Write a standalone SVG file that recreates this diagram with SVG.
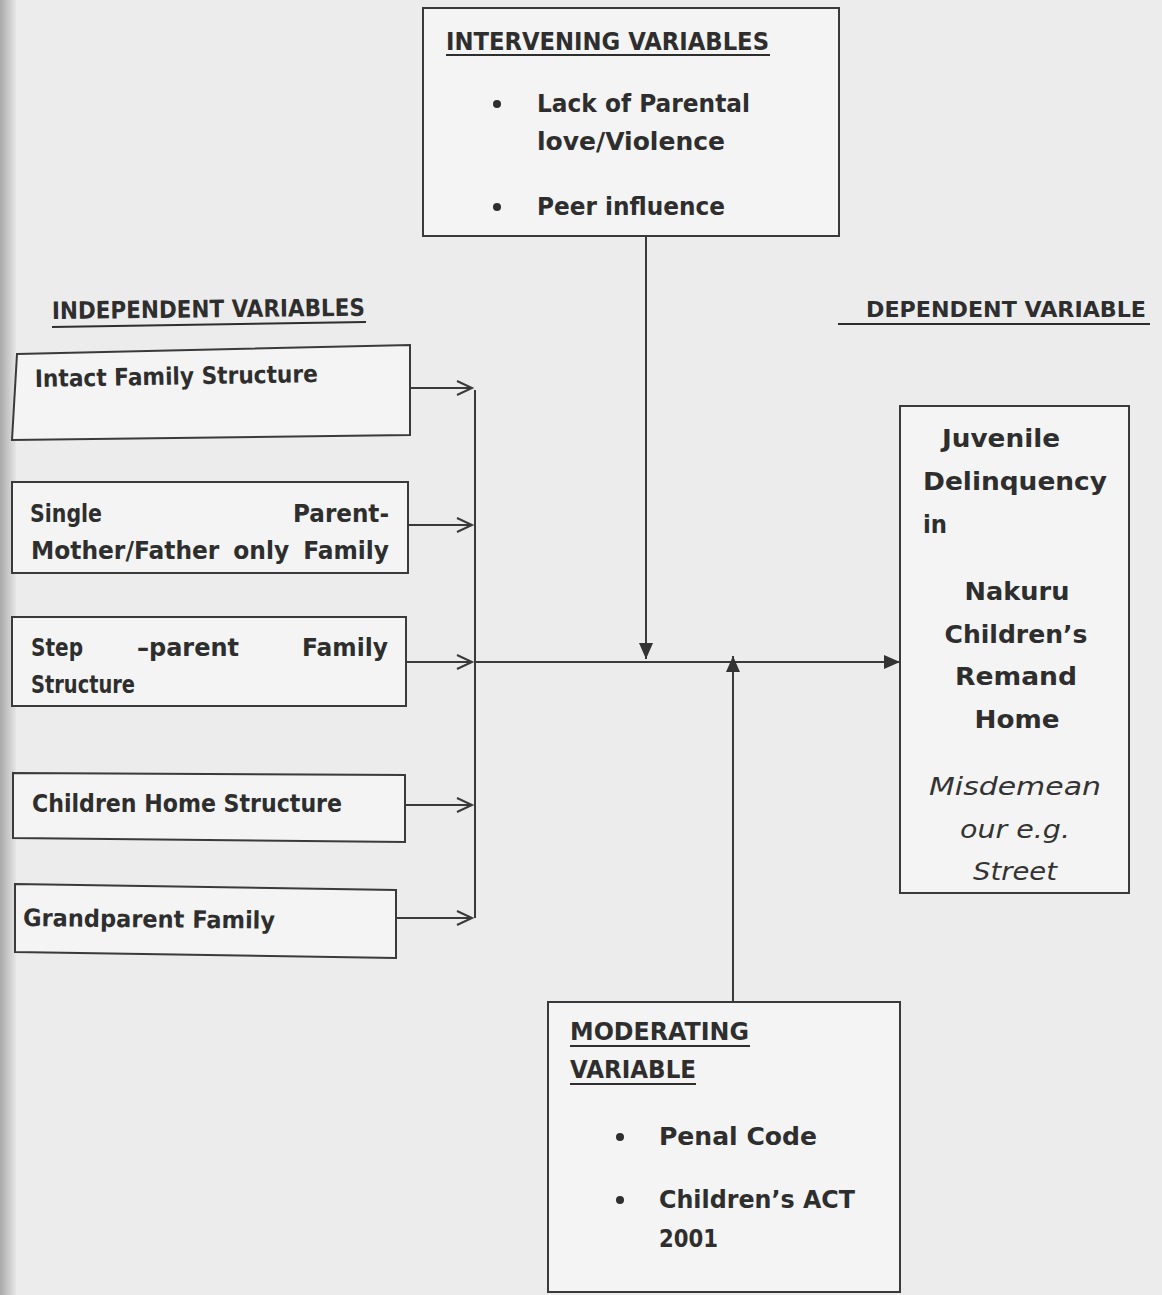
<svg xmlns="http://www.w3.org/2000/svg" width="1162" height="1295" viewBox="0 0 1162 1295">
<style>
.box{fill:#f4f4f4;stroke:#3a3a3a;stroke-width:2}
.t{font-family:"DejaVu Sans","Liberation Sans",sans-serif;font-weight:bold;font-size:24px;fill:#2e2e2e}
.it{font-family:"DejaVu Sans","Liberation Sans",sans-serif;font-style:italic;font-size:25px;fill:#333}
.ln{stroke:#3a3a3a;stroke-width:2;fill:none}
.ul{stroke:#2e2e2e;stroke-width:2}
</style>
<defs>
<linearGradient id="edge" x1="0" y1="0" x2="1" y2="0">
<stop offset="0" stop-color="#a9a9a9"/><stop offset="1" stop-color="#e6e6e6"/>
</linearGradient>
<marker id="open" markerWidth="20" markerHeight="20" refX="16" refY="8" orient="auto" markerUnits="userSpaceOnUse">
<path d="M1,1 L16,8 L1,15" fill="none" stroke="#3a3a3a" stroke-width="2"/>
</marker>
<marker id="fill" markerWidth="20" markerHeight="20" refX="16" refY="7" orient="auto" markerUnits="userSpaceOnUse">
<path d="M0,0 L16,7 L0,14 Z" fill="#333"/>
</marker>
</defs>
<rect x="0" y="0" width="1162" height="1295" fill="#ececec"/>
<rect x="0" y="0" width="16" height="1295" fill="url(#edge)"/>

<g id="connectors">
<line class="ln" x1="410" y1="388" x2="472" y2="388" marker-end="url(#open)"/>
<line class="ln" x1="408" y1="525" x2="472" y2="525" marker-end="url(#open)"/>
<line class="ln" x1="406" y1="662" x2="472" y2="662" marker-end="url(#open)"/>
<line class="ln" x1="405" y1="805" x2="472" y2="805" marker-end="url(#open)"/>
<line class="ln" x1="396" y1="918" x2="472" y2="918" marker-end="url(#open)"/>
<line class="ln" x1="475" y1="390" x2="475" y2="918"/>
<line class="ln" x1="475" y1="662" x2="900" y2="662" marker-end="url(#fill)"/>
<line class="ln" x1="646" y1="236" x2="646" y2="659" marker-end="url(#fill)"/>
<line class="ln" x1="733" y1="1002" x2="733" y2="656" marker-end="url(#fill)"/>
</g>

<g id="intervening">
<rect class="box" x="423" y="8" width="416" height="228"/>
<text class="t" x="446" y="50" textLength="323" lengthAdjust="spacingAndGlyphs">INTERVENING VARIABLES</text>
<line class="ul" x1="446" y1="55" x2="770" y2="55"/>
<circle cx="497" cy="104" r="4" fill="#2e2e2e"/>
<text class="t" x="537" y="112" textLength="213" lengthAdjust="spacingAndGlyphs">Lack of Parental</text>
<text class="t" x="537" y="150" textLength="188" lengthAdjust="spacingAndGlyphs">love/Violence</text>
<circle cx="497" cy="207" r="4" fill="#2e2e2e"/>
<text class="t" x="537" y="215" textLength="188" lengthAdjust="spacingAndGlyphs">Peer influence</text>
</g>

<g id="headings">
<text class="t" x="52" y="319" textLength="313" lengthAdjust="spacingAndGlyphs" transform="rotate(-0.6 52 319)">INDEPENDENT VARIABLES</text>
<line class="ul" x1="52" y1="327" x2="366" y2="322"/>
<text class="t" x="866" y="317" style="font-size:22px" textLength="280" lengthAdjust="spacingAndGlyphs">DEPENDENT VARIABLE</text>
<line class="ul" x1="838" y1="324" x2="1150" y2="324"/>
</g>

<g id="intact">
<polygon class="box" points="17,354 410,345 410,435 12,440"/>
<text class="t" x="35" y="387" textLength="283" lengthAdjust="spacingAndGlyphs" transform="rotate(-1 35 387)">Intact Family Structure</text>
</g>

<g id="single">
<rect class="box" x="12" y="482" width="396" height="91"/>
<text class="t" x="30" y="522" textLength="72" lengthAdjust="spacingAndGlyphs">Single</text>
<text class="t" x="293" y="522" textLength="96" lengthAdjust="spacingAndGlyphs">Parent-</text>
<text class="t" x="31" y="559" textLength="358" lengthAdjust="spacingAndGlyphs" word-spacing="6">Mother/Father  only  Family</text>
</g>

<g id="step">
<rect class="box" x="12" y="617" width="394" height="89"/>
<text class="t" x="31" y="656" textLength="52" lengthAdjust="spacingAndGlyphs">Step</text>
<text class="t" x="137" y="656" textLength="102" lengthAdjust="spacingAndGlyphs">–parent</text>
<text class="t" x="302" y="656" textLength="86" lengthAdjust="spacingAndGlyphs">Family</text>
<text class="t" x="31" y="693" textLength="104" lengthAdjust="spacingAndGlyphs">Structure</text>
</g>

<g id="childrenhome">
<polygon class="box" points="13,773 405,775 405,842 13,838"/>
<text class="t" x="32" y="812" textLength="310" lengthAdjust="spacingAndGlyphs">Children Home Structure</text>
</g>

<g id="grandparent">
<polygon class="box" points="15,884 396,890 396,958 15,952"/>
<text class="t" x="23" y="926" textLength="252" lengthAdjust="spacingAndGlyphs" transform="rotate(0.6 23 926)">Grandparent Family</text>
</g>

<g id="dependent">
<rect class="box" x="900" y="406" width="229" height="487"/>
<text class="t" x="942" y="447" textLength="118" lengthAdjust="spacingAndGlyphs">Juvenile</text>
<text class="t" x="923" y="490" textLength="184" lengthAdjust="spacingAndGlyphs">Delinquency</text>
<text class="t" x="923" y="533" textLength="24" lengthAdjust="spacingAndGlyphs">in</text>
<text class="t" x="1017" y="600" text-anchor="middle" textLength="105" lengthAdjust="spacingAndGlyphs">Nakuru</text>
<text class="t" x="1016" y="643" text-anchor="middle" textLength="143" lengthAdjust="spacingAndGlyphs">Children’s</text>
<text class="t" x="1016" y="685" text-anchor="middle" textLength="122" lengthAdjust="spacingAndGlyphs">Remand</text>
<text class="t" x="1017" y="728" text-anchor="middle" textLength="85" lengthAdjust="spacingAndGlyphs">Home</text>
<text class="it" x="1015" y="795" text-anchor="middle" textLength="172" lengthAdjust="spacingAndGlyphs">Misdemean</text>
<text class="it" x="1015" y="838" text-anchor="middle" textLength="110" lengthAdjust="spacingAndGlyphs">our e.g.</text>
<text class="it" x="1015" y="880" text-anchor="middle" textLength="84" lengthAdjust="spacingAndGlyphs">Street</text>
</g>

<g id="moderating">
<rect class="box" x="548" y="1002" width="352" height="290"/>
<text class="t" x="570" y="1040" textLength="179" lengthAdjust="spacingAndGlyphs">MODERATING</text>
<line class="ul" x1="570" y1="1046" x2="750" y2="1046"/>
<text class="t" x="570" y="1078" textLength="126" lengthAdjust="spacingAndGlyphs">VARIABLE</text>
<line class="ul" x1="570" y1="1084" x2="696" y2="1084"/>
<circle cx="620" cy="1137" r="4" fill="#2e2e2e"/>
<text class="t" x="659" y="1145" textLength="158" lengthAdjust="spacingAndGlyphs">Penal Code</text>
<circle cx="620" cy="1200" r="4" fill="#2e2e2e"/>
<text class="t" x="659" y="1208" textLength="196" lengthAdjust="spacingAndGlyphs">Children’s ACT</text>
<text class="t" x="659" y="1247" textLength="59" lengthAdjust="spacingAndGlyphs">2001</text>
</g>
</svg>
